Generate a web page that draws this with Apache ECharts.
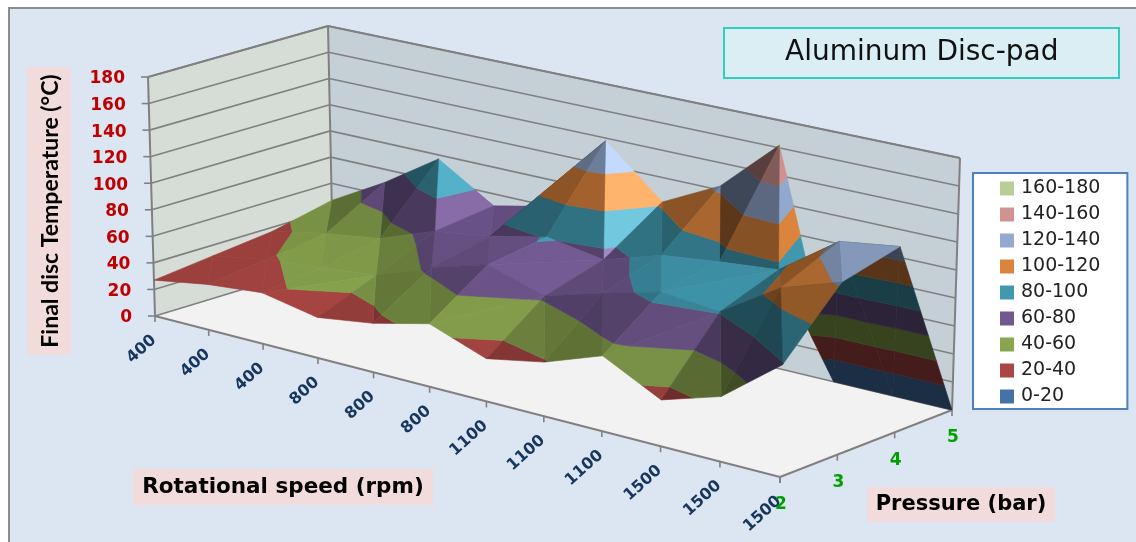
<!DOCTYPE html>
<html><head><meta charset="utf-8">
<style>html,body{margin:0;padding:0;background:#fff}#c{width:1136px;height:542px}</style>
<script src="https://cdn.jsdelivr.net/npm/echarts@6/dist/echarts.min.js"></script>
</head><body><div id="c"></div>
<script>
// ---------- data ----------
const rpmLabels = ['400','400','400','800','800','800','1100','1100','1100','1500','1500','1500'];
const pressureLabels = ['2','3','4','5'];
const tempTicks = [0,20,40,60,80,100,120,140,160,180];
const bandNames = ['0-20','20-40','40-60','60-80','80-100','100-120','120-140','140-160','160-180'];
const bandColors = ['#4572A7','#AA4643','#89A54E','#71588F','#4198AF','#DB843D','#93A9CF','#D19392','#B9CD96'];
const temp2bar = [27,34,38,30,36,46,31,39,54,33,46,79];
const temp3bar = [32,39,43,47,63,75,62,74,85,81,108,122];
const temp4bar = [37,45,51,66,72,81,74,87,92,96,126,132];
const temp5bar = [47,70,97,71,80,138,102,123,162,0,0,0];
const rows = [temp2bar,temp3bar,temp4bar,temp5bar];
const otherDiagonal = ['2,0','4,2','8,1','8,0','5,0','5,1'];

// ---------- view of the 3D box, in page pixels ----------
const A=[155,316],B=[780,477],C=[952,410],D=[333,262];
const dA=[-7,-239],dB=[6,-256],dC=[8,-252],dD=[-5,-236];
const nI=rpmLabels.length-1,nJ=pressureLabels.length-1;
function bil(p,q,r,s,f,v,k){return (1-f)*(1-v)*p[k]+f*(1-v)*q[k]+f*v*r[k]+(1-f)*v*s[k];}
function proj(i,j,z){
  const u=i/nI,f=u/(1.063-0.063*u),v=j/nJ;
  return [bil(A,B,C,D,f,v,0)+bil(dA,dB,dC,dD,f,v,0)*z/180,
          bil(A,B,C,D,f,v,1)+bil(dA,dB,dC,dD,f,v,1)*z/180];
}
function shade(hex,l){
  const n=parseInt(hex.slice(1),16);
  const c=[(n>>16)&255,(n>>8)&255,n&255].map(x=>Math.min(255,Math.round(x*l.k+l.add)));
  return 'rgb('+c.join(',')+')';
}
function brightness(a,b,c){
  const w=p=>[p[0]*57,p[1]*100,p[2]*1.36];
  const P=w(a),Q=w(b),R=w(c);
  const e=[Q[0]-P[0],Q[1]-P[1],Q[2]-P[2]],g=[R[0]-P[0],R[1]-P[1],R[2]-P[2]];
  let n=[e[1]*g[2]-e[2]*g[1],e[2]*g[0]-e[0]*g[2],e[0]*g[1]-e[1]*g[0]];
  if(n[2]<0)n=n.map(x=>-x);
  const l=Math.hypot(n[0],n[1],n[2]);n=n.map(x=>x/l);
  const sa=proj(...a),sb=proj(...b),sc=proj(...c);
  const scr=(sb[0]-sa[0])*(sc[1]-sa[1])-(sb[1]-sa[1])*(sc[0]-sa[0]);
  const wld=(b[0]-a[0])*(c[1]-a[1])-(b[1]-a[1])*(c[0]-a[0]);
  // on screen y runs down, so a face seen from above flips sign
  if(scr*wld>0) return {k:0.4,add:0};
  const dot=Math.max(0,0.65*n[0]-0.25*n[1]+0.72*n[2]);
  const I=0.45+0.55*n[2]+0.35*n[0]+0.3*n[1];
  return {k:Math.max(0.42,I),add:48*Math.pow(dot,40)};
}
function clip(poly,lim,keepAbove){
  const out=[];
  for(let k=0;k<poly.length;k++){
    const p=poly[k],q=poly[(k+1)%poly.length];
    const pi=keepAbove?p[2]>=lim:p[2]<=lim, qi=keepAbove?q[2]>=lim:q[2]<=lim;
    if(pi)out.push(p);
    if(pi!==qi){const t=(lim-p[2])/(q[2]-p[2]);
      out.push([p[0]+t*(q[0]-p[0]),p[1]+t*(q[1]-p[1]),lim]);}
  }
  return out;
}
function triangleEls(api,a,b,c){
  const k=brightness(a,b,c),els=[];
  bandColors.forEach((col,n)=>{
    let poly=clip([a,b,c],n*20,true);
    if(poly.length)poly=clip(poly,(n+1)*20,false);
    if(poly.length<3)return;
    const fill=shade(col,k);
    els.push({type:'polygon',shape:{points:poly.map(p=>api.coord(proj(p[0],p[1],p[2])))},
      style:{fill:fill,stroke:fill,lineWidth:0.6}});
  });
  return els;
}
function renderCell(params,api){
  const i=api.value(0),j=api.value(1);
  const P=(x,y)=>[x,y,rows[y][x]];
  const a=P(i,j),b=P(i+1,j),c=P(i+1,j+1),d=P(i,j+1);
  let els;
  if(otherDiagonal.indexOf(i+','+j)>=0) els=triangleEls(api,a,c,d).concat(triangleEls(api,a,b,c));
  else els=triangleEls(api,d,c,b).concat(triangleEls(api,a,b,d));
  return {type:'group',children:els};
}
const GREY='#808080';
function line(api,p,q,w,col){
  const s=api.coord(p),e=api.coord(q);
  return {type:'line',shape:{x1:s[0],y1:s[1],x2:e[0],y2:e[1]},style:{stroke:col||GREY,lineWidth:w||1.6}};
}
function renderBox(params,api){
  const c=(i,j,z)=>api.coord(proj(i,j,z));
  const kids=[];
  kids.push({type:'polygon',shape:{points:[c(0,0,0),c(0,0,180),c(0,nJ,180),c(0,nJ,0)]},style:{fill:'#D6DDD6'}});
  kids.push({type:'polygon',shape:{points:[c(0,nJ,0),c(0,nJ,180),c(nI,nJ,180),c(nI,nJ,0)]},style:{fill:'#C4D0D6'}});
  kids.push({type:'polygon',shape:{points:[c(0,0,0),c(nI,0,0),c(nI,nJ,0),c(0,nJ,0)]},style:{fill:'#F2F2F2'}});
  tempTicks.forEach(t=>{
    kids.push(line(api,proj(0,0,t),proj(0,nJ,t)));
    kids.push(line(api,proj(0,nJ,t),proj(nI,nJ,t)));
    const p=proj(0,0,t);
    kids.push(line(api,[p[0]-7,p[1]],p));
    const lp=api.coord([p[0]-23,p[1]+2]);
    kids.push({type:'text',style:{text:String(t),x:lp[0],y:lp[1],align:'right',verticalAlign:'middle',
      fill:'#C00000',font:'bold 17px "DejaVu Sans"'}});
  });
  kids.push(line(api,proj(0,0,0),proj(0,0,180),2));
  kids.push(line(api,proj(0,nJ,0),proj(0,nJ,180),2));
  kids.push(line(api,proj(nI,nJ,0),proj(nI,nJ,180),2));
  kids.push(line(api,proj(nI,nJ,180),proj(0,nJ,180),2));
  kids.push(line(api,proj(0,nJ,180),proj(0,0,180),2));
  kids.push(line(api,proj(0,0,0),proj(nI,0,0),2));
  kids.push(line(api,proj(nI,0,0),proj(nI,nJ,0),2));
  rpmLabels.forEach((t,i)=>{
    const p=proj(i,0,0);
    kids.push(line(api,p,[p[0],p[1]+6]));
    const lp=api.coord([p[0]-1,p[1]+22]);
    kids.push({type:'text',x:lp[0],y:lp[1],rotation:Math.PI*42/180,
      style:{text:t,x:0,y:0,align:'right',verticalAlign:'middle',fill:'#17365D',font:'bold 16px "DejaVu Sans"'}});
  });
  pressureLabels.forEach((t,j)=>{
    const p=proj(nI,j,0);
    kids.push(line(api,p,[p[0],p[1]+6]));
    const lp=api.coord([p[0]+1,p[1]+28]);
    kids.push({type:'text',style:{text:t,x:lp[0],y:lp[1],align:'center',verticalAlign:'middle',
      fill:'#00A000',font:'bold 17px "DejaVu Sans"'}});
  });
  return {type:'group',children:kids};
}
const cells=[];
for(let j=nJ-1;j>=0;j--)for(let i=0;i<nI;i++)cells.push([i,j]);
function pinkBox(x,y,w,h,text,font,rot){
  const el={type:'group',z:1,children:[
    {type:'rect',shape:{x:x,y:y,width:w,height:h},style:{fill:'#F2DCDB'}}]};
  el.children.push(rot
   ?{type:'text',x:x+w/2+(rot.dx||0),y:y+h/2,rotation:Math.PI/2,style:{text:text,x:0,y:0,align:'center',verticalAlign:'middle',fill:'#000',font:font}}
   :{type:'text',style:{text:text,x:x+w/2,y:y+h/2,align:'center',verticalAlign:'middle',fill:'#000',font:font}});
  return el;
}
const legendOrder=bandNames.slice().reverse();
const option={
  animation:false,
  title:{text:'Aluminum Disc-pad',left:724,top:28,padding:[11,61,11,61],backgroundColor:'#DBEEF4',
    borderColor:'#2ECFBB',borderWidth:2,
    textStyle:{fontFamily:'DejaVu Sans',fontWeight:'normal',fontSize:28,color:'#111',lineHeight:28}},
  grid:{left:0,right:0,top:0,bottom:0},
  xAxis:{type:'value',min:0,max:1136,show:false},
  yAxis:{type:'value',min:0,max:542,inverse:true,show:false},
  legend:{orient:'vertical',left:973,top:173,data:legendOrder,icon:'rect',itemWidth:14,itemHeight:14,itemGap:7,
    padding:[6,27,3,27],backgroundColor:'#fff',borderColor:'#4F81BD',borderWidth:2,selectedMode:false,
    textStyle:{fontFamily:'DejaVu Sans',fontSize:19,lineHeight:18,color:'#222',padding:[0,0,0,2]}},
  graphic:{elements:[
    {type:'rect',z:0,shape:{x:9,y:8,width:1140,height:550},style:{fill:'#DCE6F2',stroke:'#8c8c8c',lineWidth:2}},
    pinkBox(27,67,44,288,'Final disc Temperature (°C)','bold 23px Lato',{dx:2}),
    pinkBox(133,469,300,36,'Rotational speed (rpm)','bold 21.5px "DejaVu Sans"'),
    pinkBox(867,487,188,35,'Pressure (bar)','bold 21px "DejaVu Sans"')
  ]},
  series:[
    {type:'custom',name:'box',data:[[0,0]],renderItem:renderBox,clip:false,silent:true,z:2},
    {type:'custom',name:'surface',data:cells,renderItem:renderCell,clip:false,silent:true,z:3}
  ].concat(bandNames.map((n,k)=>({type:'custom',name:n,data:[],renderItem:()=>null,itemStyle:{color:bandColors[k]}})))
};
echarts.init(document.getElementById('c'),null,{renderer:'canvas'}).setOption(option);
</script></body></html>
